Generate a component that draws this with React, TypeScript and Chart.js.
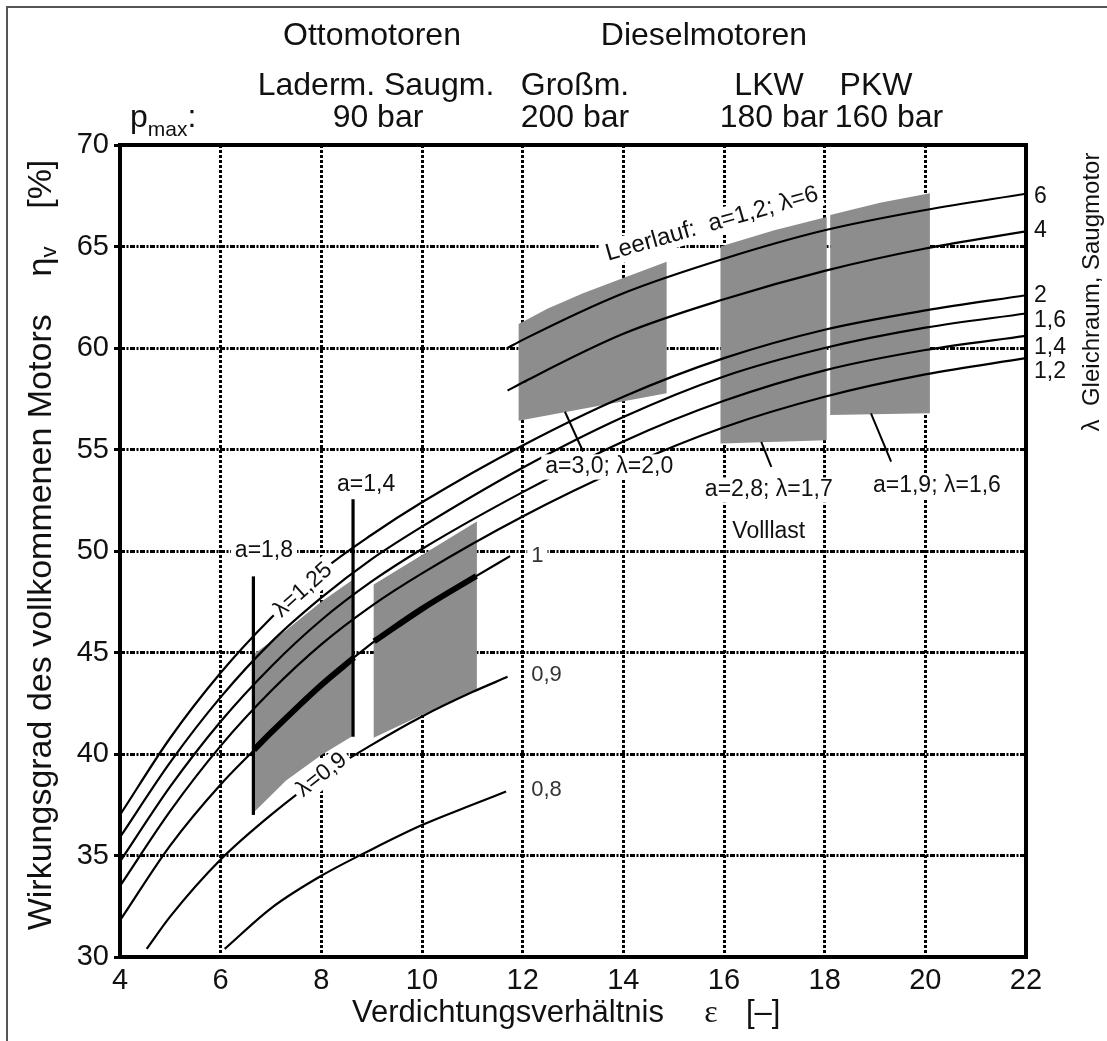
import React, { useEffect, useRef } from "react";
import { Chart, registerables } from "chart.js";

Chart.register(...registerables);

const FONT = "'Liberation Sans', Arial, Helvetica, sans-serif";

// ---------- axis ticks ----------
const xTickValues = [4, 6, 8, 10, 12, 14, 16, 18, 20, 22];
const yTickValues = [30, 35, 40, 45, 50, 55, 60, 65, 70];

// ---------- efficiency curves of the ideal engine (constant volume, naturally aspirated) ----------
const epsFull = [4, 5, 6, 7, 8, 9, 10, 12, 14, 16, 18, 20, 22];
const etaLambda2 = [37.0, 40.8, 44.0, 46.7, 49.0, 50.8, 52.4, 55.2, 57.6, 59.5, 60.9, 61.85, 62.6];
const etaLambda16 = [35.9, 39.6, 42.8, 45.5, 47.7, 49.6, 51.2, 54.1, 56.6, 58.6, 60.0, 61.0, 61.7];
const etaLambda14 = [34.7, 38.4, 41.6, 44.3, 46.6, 48.5, 50.1, 52.9, 55.4, 57.4, 58.9, 59.9, 60.6];
const etaLambda12 = [33.5, 37.2, 40.4, 43.1, 45.4, 47.3, 48.9, 51.7, 54.1, 56.1, 57.6, 58.7, 59.5];

const epsDiesel = [11.7, 12, 14, 16, 18, 20, 22];
const etaLambda6 = [60.0, 60.4, 62.7, 64.4, 65.8, 66.8, 67.6];
const etaLambda4 = [57.9, 58.3, 60.7, 62.4, 63.8, 64.9, 65.75];

const epsLambda1 = [4, 5, 6, 7, 8, 9, 10, 11, 11.75];
const etaLambda1 = [31.8, 35.5, 38.5, 41.0, 43.4, 45.45, 47.15, 48.65, 49.75];
const epsLambda09 = [4.53, 5, 6, 7, 8, 9, 10, 11, 11.7];
const etaLambda09 = [30.4, 32.0, 34.8, 37.0, 38.9, 40.45, 41.85, 43.05, 43.8];
const epsLambda08 = [6.08, 7, 8, 9, 10, 11, 11.67];
const etaLambda08 = [30.4, 32.4, 34.0, 35.3, 36.5, 37.5, 38.15];

// thick λ=1 sections (Otto engines)
const epsThickA = [6.66, 7, 7.5, 8, 8.65];
const etaThickA = [40.2, 41.05, 42.25, 43.4, 44.75];
const epsThickB = [9.05, 10, 11.08];
const etaThickB = [45.55, 47.15, 48.77];

// vertical lines a=1,8 and a=1,4
const epsA18 = [6.65, 6.65];
const etaA18 = [37.0, 48.75];
const epsA14 = [8.63, 8.63];
const etaA14 = [40.85, 52.55];

// pointer lines to labels
const epsPtrGross = [12.84, 13.2];
const etaPtrGross = [56.86, 54.9];
const epsPtrLkw = [16.74, 16.94];
const etaPtrLkw = [55.38, 54.15];
const epsPtrPkw = [18.92, 19.32];
const etaPtrPkw = [56.78, 54.4];

// ---------- grey operating regions (polygons) ----------
const epsOttoLader = [6.65, 7.3, 8.0, 8.63, 8.63, 8.0, 7.3, 6.65];
const etaOttoLader = [37.1, 38.7, 39.95, 40.9, 48.6, 47.5, 46.1, 44.9];
const epsOttoSaug = [9.04, 11.09, 11.09, 9.04];
const etaOttoSaug = [40.8, 43.2, 51.45, 48.35];
const epsGross = [11.92, 14.86, 14.86, 14.0, 13.2, 12.5, 11.92];
const etaGross = [56.42, 57.77, 64.25, 63.45, 62.7, 61.95, 61.18];
const epsLkw = [15.93, 18.04, 18.04, 17.0, 15.93];
const etaLkw = [55.3, 55.45, 66.45, 65.8, 65.0];
const epsPkw = [18.11, 20.09, 20.09, 19.1, 18.11];
const etaPkw = [56.7, 56.78, 67.62, 67.15, 66.55];

// ---------- labels ----------
const rightLabels = ["6", "4", "2", "1,6", "1,4", "1,2"];
const rightLabelEta = [67.44, 65.76, 62.56, 61.33, 60.0, 58.82];

const annotations: any[] = [
  { text: "Leerlauf:  a=1,2; λ=6", x: 15.76, y: 66.11, angle: -16, bg: true, size: 24 },
  { text: "a=3,0; λ=2,0", x: 13.72, y: 54.14, bg: true, size: 23 },
  { text: "a=2,8; λ=1,7", x: 16.89, y: 53.0, bg: true, size: 23 },
  { text: "Volllast", x: 16.89, y: 50.94, bg: true, size: 23 },
  { text: "a=1,9; λ=1,6", x: 20.23, y: 53.2, bg: true, size: 23 },
  { text: "a=1,8", x: 6.86, y: 50.0, bg: true, size: 23 },
  { text: "a=1,4", x: 8.89, y: 53.25, bg: true, size: 23 },
  { text: "λ=1,25", x: 7.64, y: 48.08, angle: -42, bg: true, size: 23 },
  { text: "λ=0,9", x: 8.01, y: 38.97, angle: -38, bg: true, size: 23 },
  { text: "1", x: 12.17, y: 49.75, align: "left", bg: true, size: 22, color: "#333" },
  { text: "0,9", x: 12.17, y: 43.89, align: "left", bg: true, size: 22, color: "#333" },
  { text: "0,8", x: 12.17, y: 38.23, align: "left", bg: true, size: 22, color: "#333" },
];

const pts = (xs: number[], ys: number[]) => xs.map((x, i) => ({ x, y: ys[i] }));

const curve = (xs: number[], ys: number[], width = 2.2, order = 1) => ({
  data: pts(xs, ys),
  borderColor: "#000",
  borderWidth: width,
  pointRadius: 0,
  cubicInterpolationMode: "monotone",
  fill: false,
  order,
});
const straight = (xs: number[], ys: number[], width: number) => ({
  data: pts(xs, ys),
  borderColor: "#000",
  borderWidth: width,
  borderCapStyle: "butt",
  pointRadius: 0,
  tension: 0,
  fill: false,
  order: 0,
});
const region = (xs: number[], ys: number[]) => ({
  data: pts(xs, ys),
  borderColor: "rgba(0,0,0,0)",
  borderWidth: 0,
  backgroundColor: "#8d8d8d",
  pointRadius: 0,
  tension: 0,
  fill: "shape",
  order: 5,
});

function drawText(ctx: CanvasRenderingContext2D, text: string, x: number, y: number, o: any = {}) {
  const size = o.size || 23;
  const align = o.align || "center";
  ctx.save();
  ctx.translate(x, y);
  if (o.angle) ctx.rotate((o.angle * Math.PI) / 180);
  ctx.font = `${size}px ${o.family || FONT}`;
  ctx.textAlign = align;
  ctx.textBaseline = o.baseline || "middle";
  if (o.bg) {
    const w = ctx.measureText(text).width;
    const pad = 4;
    const x0 = align === "left" ? 0 : align === "right" ? -w : -w / 2;
    ctx.fillStyle = "#fff";
    ctx.fillRect(x0 - pad, -size * 0.55, w + 2 * pad, size * 1.1);
  }
  ctx.fillStyle = o.color || "#111";
  ctx.fillText(text, 0, 0);
  ctx.restore();
}

const overlay = {
  id: "overlay",
  afterDraw(chart: any) {
    const { ctx, chartArea: a, scales } = chart;
    const X = (v: number) => scales.x.getPixelForValue(v);
    const Y = (v: number) => scales.y.getPixelForValue(v);
    ctx.save();

    // page frame
    ctx.strokeStyle = "#555";
    ctx.lineWidth = 2;
    ctx.beginPath();
    ctx.moveTo(7, chart.height);
    ctx.lineTo(7, 7);
    ctx.lineTo(chart.width, 7);
    ctx.stroke();

    // plot frame
    ctx.strokeStyle = "#000";
    ctx.lineWidth = 4;
    ctx.strokeRect(a.left, a.top, a.right - a.left, a.bottom - a.top);

    // headers
    const hs = { size: 32, baseline: "alphabetic" };
    drawText(ctx, "Ottomotoren", 372, 45, hs);
    drawText(ctx, "Dieselmotoren", 704, 45, hs);
    drawText(ctx, "Laderm. Saugm.", 376, 95, hs);
    drawText(ctx, "Großm.", 575, 95, hs);
    drawText(ctx, "LKW", 769, 95, hs);
    drawText(ctx, "PKW", 876, 95, hs);
    drawText(ctx, "90 bar", 378, 127, hs);
    drawText(ctx, "200 bar", 575, 127, hs);
    drawText(ctx, "180 bar", 774, 127, hs);
    drawText(ctx, "160 bar", 889, 127, hs);
    // p_max:
    ctx.fillStyle = "#111";
    ctx.textBaseline = "alphabetic";
    ctx.textAlign = "left";
    ctx.font = `32px ${FONT}`;
    ctx.fillText("p", 130, 127);
    let px = 130 + ctx.measureText("p").width;
    ctx.font = `21px ${FONT}`;
    ctx.fillText("max", px, 136);
    px += ctx.measureText("max").width;
    ctx.font = `32px ${FONT}`;
    ctx.fillText(":", px, 127);

    // x-axis title
    ctx.font = `31px ${FONT}`;
    ctx.textAlign = "left";
    ctx.fillText("Verdichtungsverhältnis", 352, 1022);
    ctx.font = `32px 'Liberation Serif', 'DejaVu Serif', serif`;
    ctx.textAlign = "center";
    ctx.fillText("ε", 711, 1022);
    ctx.font = `31px ${FONT}`;
    ctx.textAlign = "left";
    ctx.fillText("[–]", 746, 1022);

    // y-axis title (rotated) with subscript
    ctx.save();
    ctx.translate(42, 545);
    ctx.rotate(-Math.PI / 2);
    ctx.textBaseline = "middle";
    ctx.textAlign = "left";
    const big = `34px ${FONT}`;
    const small = `22px ${FONT}`;
    const parts: [string, string, number][] = [
      ["Wirkungsgrad des vollkommenen Motors    η", big, 0],
      ["v", small, 8],
      ["    [%]", big, 0],
    ];
    let total = 0;
    for (const [t, f] of parts) {
      ctx.font = f;
      total += ctx.measureText(t).width;
    }
    let cx = -total / 2;
    ctx.fillStyle = "#111";
    for (const [t, f, dy] of parts) {
      ctx.font = f;
      ctx.fillText(t, cx, dy);
      cx += ctx.measureText(t).width;
    }
    ctx.restore();

    // right side title
    drawText(ctx, "λ  Gleichraum, Saugmotor", 1092, 292, { size: 24, angle: -90 });

    // right curve labels
    rightLabels.forEach((t, i) => {
      drawText(ctx, t, X(22) + 8, Y(rightLabelEta[i]), { size: 23, align: "left" });
    });

    // annotations
    for (const an of annotations) {
      drawText(ctx, an.text, X(an.x), Y(an.y), an);
    }
    ctx.restore();
  },
};

export default function App() {
  const ref = useRef<HTMLCanvasElement>(null);
  useEffect(() => {
    const canvas = ref.current;
    if (!canvas) return;
    Chart.defaults.font.family = FONT;
    Chart.defaults.color = "#111";
    const chart = new Chart(canvas, {
      type: "line",
      data: {
        datasets: [
          curve(epsThickA, etaThickA, 6, 0),
          curve(epsThickB, etaThickB, 6, 0),
          straight(epsA18, etaA18, 3.2),
          straight(epsA14, etaA14, 3.2),
          straight(epsPtrGross, etaPtrGross, 2),
          straight(epsPtrLkw, etaPtrLkw, 2),
          straight(epsPtrPkw, etaPtrPkw, 2),
          curve(epsDiesel, etaLambda6),
          curve(epsDiesel, etaLambda4),
          curve(epsFull, etaLambda2),
          curve(epsFull, etaLambda16),
          curve(epsFull, etaLambda14),
          curve(epsFull, etaLambda12),
          curve(epsLambda1, etaLambda1),
          curve(epsLambda09, etaLambda09),
          curve(epsLambda08, etaLambda08),
          region(epsOttoLader, etaOttoLader),
          region(epsOttoSaug, etaOttoSaug),
          region(epsGross, etaGross),
          region(epsLkw, etaLkw),
          region(epsPkw, etaPkw),
        ] as any,
      },
      options: {
        responsive: false,
        devicePixelRatio: 1,
        animation: false,
        events: [],
        layout: { padding: { left: 0, right: 81, top: 145, bottom: 0 } },
        plugins: { legend: { display: false }, tooltip: { enabled: false }, title: { display: false } },
        scales: {
          x: {
            type: "linear",
            min: 4,
            max: 22,
            z: 1,
            afterFit: (s: any) => {
              s.height = 84;
            },
            afterBuildTicks: (s: any) => {
              s.ticks = xTickValues.map((v) => ({ value: v }));
            },
            ticks: { font: { size: 29 }, color: "#111", padding: 7, maxRotation: 0 },
            grid: { color: "#000", lineWidth: 3, drawTicks: false },
            border: { display: false, dash: [3, 2] },
            title: { display: false },
          },
          y: {
            type: "linear",
            min: 30,
            max: 70,
            z: 1,
            afterFit: (s: any) => {
              s.width = 120;
            },
            afterBuildTicks: (s: any) => {
              s.ticks = yTickValues.map((v) => ({ value: v }));
            },
            ticks: { font: { size: 29 }, color: "#111", padding: 5 },
            grid: { color: "#000", lineWidth: 3, tickLength: 6, drawTicks: true },
            border: { display: false, dash: [5, 1.5, 2, 1.5] },
          },
        },
      } as any,
      plugins: [overlay],
    });
    return () => chart.destroy();
  }, []);

  return (
    <div style={{ position: "fixed", left: 0, top: 0, width: 1107, height: 1041, background: "#fff" }}>
      <canvas ref={ref} width={1107} height={1041} style={{ display: "block", width: 1107, height: 1041 }} />
    </div>
  );
}
